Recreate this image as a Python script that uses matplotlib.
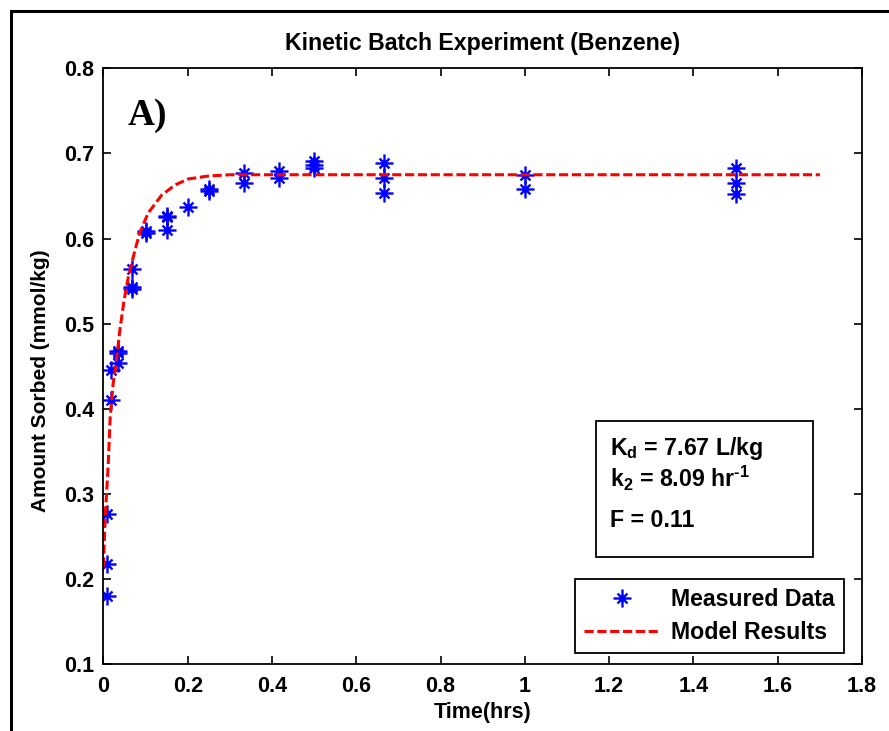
import matplotlib
matplotlib.use("Agg")
import matplotlib.pyplot as plt
from matplotlib.path import Path
from matplotlib.patches import Rectangle

# Measured sorption (time in hours, amount sorbed in mmol/kg)
t_meas = [0.0083, 0.0083, 0.0083,
          0.0167, 0.0167,
          0.0333, 0.0333, 0.0333,
          0.0667, 0.0667, 0.0667,
          0.1, 0.1,
          0.15, 0.15, 0.15,
          0.2,
          0.25, 0.25,
          0.3333, 0.3333,
          0.4167, 0.4167,
          0.5, 0.5, 0.5,
          0.6667, 0.6667, 0.6667,
          1.0, 1.0,
          1.5, 1.5, 1.5]
q_meas = [0.180, 0.218, 0.277,
          0.410, 0.446,
          0.454, 0.466, 0.468,
          0.564, 0.541, 0.543,
          0.607, 0.609,
          0.610, 0.625, 0.627,
          0.637,
          0.656, 0.658,
          0.677, 0.665,
          0.679, 0.671,
          0.691, 0.687, 0.683,
          0.689, 0.671, 0.653,
          0.675, 0.658,
          0.683, 0.665, 0.652]

# Fitted model curve
t_model = [0.0, 0.004, 0.011, 0.016, 0.023, 0.029, 0.039, 0.049, 0.059,
           0.075, 0.087, 0.106, 0.138, 0.170, 0.201, 0.249, 0.30, 0.40, 1.7]
q_model = [0.215, 0.273, 0.332, 0.391, 0.430, 0.450, 0.493, 0.528, 0.555,
           0.587, 0.608, 0.630, 0.651, 0.663, 0.670, 0.6735, 0.675, 0.675, 0.675]

x_ticks = [0, 0.2, 0.4, 0.6, 0.8, 1, 1.2, 1.4, 1.6, 1.8]
x_labels = ["0", "0.2", "0.4", "0.6", "0.8", "1", "1.2", "1.4", "1.6", "1.8"]
y_ticks = [0.1, 0.2, 0.3, 0.4, 0.5, 0.6, 0.7, 0.8]
y_labels = ["0.1", "0.2", "0.3", "0.4", "0.5", "0.6", "0.7", "0.8"]

plt.rcParams['font.family'] = ['Liberation Sans', 'DejaVu Sans']
plt.rcParams['font.weight'] = 'bold'
plt.rcParams['mathtext.fontset'] = 'custom'
plt.rcParams['mathtext.rm'] = 'Liberation Sans:bold'
plt.rcParams['mathtext.it'] = 'Liberation Sans:bold'
plt.rcParams['mathtext.bf'] = 'Liberation Sans:bold'

FS = 15.5      # ticks and axis labels
FS_BIG = 16.7  # title, legend, parameter box

# asterisk marker: long + arms, shorter diagonal arms
d = 0.55
star_verts = [(-1, 0), (1, 0), (0, -1), (0, 1), (-d, -d), (d, d), (-d, d), (d, -d)]
star_codes = [Path.MOVETO, Path.LINETO] * 4
star = Path(star_verts, star_codes)

fig = plt.figure(figsize=(8.89, 7.31), dpi=100)
ax = fig.add_axes([0.1164, 0.091, 0.8532, 0.8156])

ax.plot(t_meas, q_meas, linestyle='none', marker=star, markersize=13,
        markeredgewidth=1.7, color=(0, 0, 1), label='Measured Data')
ax.plot(t_model, q_model, color=(1, 0, 0), linewidth=2.2, dashes=(3.0, 1.2),
        label='Model Results')

ax.set_xlim(0, 1.8)
ax.set_ylim(0.1, 0.8)
ax.set_xticks(x_ticks)
ax.set_xticklabels(x_labels)
ax.set_yticks(y_ticks)
ax.set_yticklabels(y_labels)
ax.tick_params(direction='in', length=6, width=1.2, labelsize=FS,
               top=True, right=True, pad=7)
ax.tick_params(axis='x', pad=8)
for sp in ax.spines.values():
    sp.set_linewidth(1.3)

ax.set_title('Kinetic Batch Experiment (Benzene)', fontsize=FS_BIG,
             fontweight='bold', pad=13)
ax.set_xlabel('Time(hrs)', fontsize=FS, fontweight='bold', labelpad=4)
ax.set_ylabel('Amount Sorbed (mmol/kg)', fontsize=15, fontweight='bold')
ax.yaxis.set_label_coords(-0.0705, 0.4755)

ax.text(0.058, 0.7334, 'A)', fontsize=27, fontweight='bold',
        family=['Liberation Serif', 'DejaVu Serif'], va='baseline')

# parameter box
ax.add_patch(Rectangle((0.649, 0.181), 0.287, 0.227, transform=ax.transAxes,
                       fill=False, edgecolor='black', linewidth=1.3))
ax.text(0.668, 0.3515, r'K$_{\rm d}$ = 7.67 L/kg', transform=ax.transAxes,
        fontsize=FS_BIG, va='baseline')
ax.text(0.668, 0.298, 'k$_{\\rm 2}$ = 8.09 hr$^{\\rm \u20101}$',
        transform=ax.transAxes, fontsize=FS_BIG, va='baseline')
ax.text(0.668, 0.231, 'F = 0.11', transform=ax.transAxes,
        fontsize=FS_BIG, va='baseline')

leg = ax.legend(loc='lower right', bbox_to_anchor=(0.976, 0.0193),
                borderaxespad=0, fontsize=FS_BIG, fancybox=False, framealpha=1,
                edgecolor='black', handlelength=3.25, handletextpad=0.5,
                borderpad=0.4, labelspacing=0.42)
leg.get_frame().set_linewidth(1.3)

# outer frame
fig.patches.append(Rectangle((11 / 889, -0.05), 1.1, 1 - 11 / 731 + 0.05,
                             transform=fig.transFigure, fill=False,
                             edgecolor='black', linewidth=2.2))

fig.savefig('out.png', dpi=100)
